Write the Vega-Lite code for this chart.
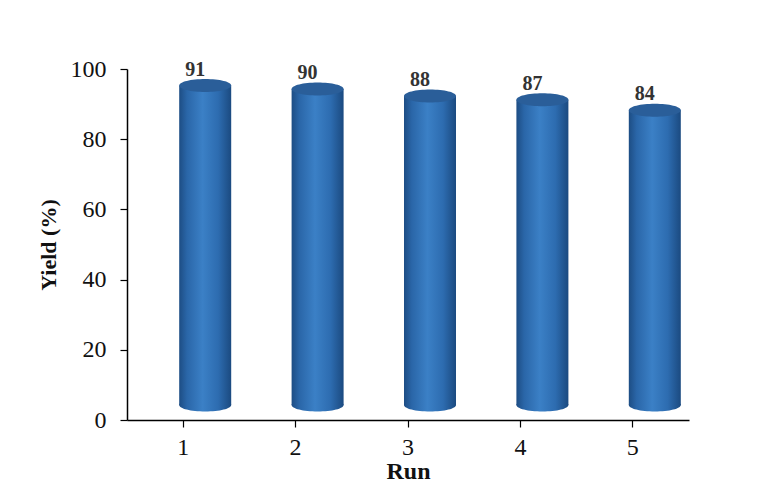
{
  "$schema": "https://vega.github.io/schema/vega-lite/v6.json",
  "width": 562,
  "height": 351,
  "autosize": "none",
  "padding": {"left": 127, "top": 69, "right": 68, "bottom": 66},
  "background": "white",
  "config": {
    "view": {"stroke": null},
    "font": "Times New Roman, Liberation Serif, serif"
  },
  "data": {
    "values": [
      {"Run": "1", "Yield": 91},
      {"Run": "2", "Yield": 90},
      {"Run": "3", "Yield": 88},
      {"Run": "4", "Yield": 87},
      {"Run": "5", "Yield": 84}
    ]
  },
  "encoding": {
    "x": {
      "field": "Run",
      "type": "ordinal",
      "scale": {"paddingInner": 0, "paddingOuter": 0},
      "axis": {
        "title": "Run",
        "labelAngle": 0,
        "labelFont": "Times New Roman, Liberation Serif, serif",
        "labelFontSize": 24,
        "labelColor": "#111",
        "labelPadding": 8,
        "titleFont": "Times New Roman, Liberation Serif, serif",
        "titleFontSize": 24,
        "titleFontWeight": "bold",
        "titleColor": "#111",
        "titlePadding": 0,
        "domainColor": "#000",
        "domainWidth": 1.5,
        "tickColor": "#000",
        "tickSize": 7,
        "tickWidth": 1.2
      }
    }
  },
  "layer": [
    {
      "mark": {
        "type": "bar",
        "width": 52,
        "xOffset": 22,
        "yOffset": -15,
        "y2Offset": -15,
        "fill": {
          "gradient": "linear",
          "x1": 0, "y1": 0, "x2": 1, "y2": 0,
          "stops": [
            {"offset": 0, "color": "#1d4d84"},
            {"offset": 0.15, "color": "#2a66a8"},
            {"offset": 0.45, "color": "#3b80c6"},
            {"offset": 0.75, "color": "#2d6cb0"},
            {"offset": 1, "color": "#1b4a80"}
          ]
        }
      },
      "encoding": {
        "y": {
          "field": "Yield",
          "type": "quantitative",
          "scale": {"domain": [0, 100]},
          "axis": {
            "title": "Yield (%)",
            "values": [0, 20, 40, 60, 80, 100],
            "grid": false,
            "labelFont": "Times New Roman, Liberation Serif, serif",
            "labelFontSize": 24,
            "labelColor": "#111",
            "labelPadding": 14,
            "titleFont": "Times New Roman, Liberation Serif, serif",
            "titleFontSize": 22,
            "titleFontWeight": "bold",
            "titleColor": "#111",
            "titlePadding": 10,
            "domainColor": "#000",
            "domainWidth": 1.5,
            "tickColor": "#000",
            "tickSize": 7,
            "tickWidth": 1.2
          }
        },
        "y2": {"datum": 0}
      }
    },
    {
      "mark": {
        "type": "point",
        "shape": "M -1 0 A 1 0.25 0 1 1 1 0 A 1 0.25 0 1 1 -1 0 Z",
        "size": 2704,
        "filled": true,
        "opacity": 1,
        "strokeWidth": 0,
        "xOffset": 22,
        "yOffset": -15,
        "fill": {
          "gradient": "linear",
          "x1": 0, "y1": 0, "x2": 1, "y2": 0,
          "stops": [
            {"offset": 0, "color": "#1d4d84"},
            {"offset": 0.15, "color": "#2a66a8"},
            {"offset": 0.45, "color": "#3b80c6"},
            {"offset": 0.75, "color": "#2d6cb0"},
            {"offset": 1, "color": "#1b4a80"}
          ]
        }
      },
      "encoding": {
        "y": {"datum": 0, "type": "quantitative"}
      }
    },
    {
      "mark": {
        "type": "point",
        "shape": "M -1 0 A 1 0.25 0 1 1 1 0 A 1 0.25 0 1 1 -1 0 Z",
        "size": 2704,
        "filled": true,
        "opacity": 1,
        "strokeWidth": 0,
        "xOffset": 22,
        "yOffset": -15,
        "fill": "#2a5e99"
      },
      "encoding": {
        "y": {"field": "Yield", "type": "quantitative"}
      }
    },
    {
      "mark": {
        "type": "text",
        "font": "Times New Roman, Liberation Serif, serif",
        "fontSize": 20,
        "fontWeight": "bold",
        "color": "#333",
        "baseline": "alphabetic",
        "dx": 12,
        "dy": -25
      },
      "encoding": {
        "y": {"field": "Yield", "type": "quantitative"},
        "text": {"field": "Yield", "type": "quantitative"}
      }
    }
  ]
}
